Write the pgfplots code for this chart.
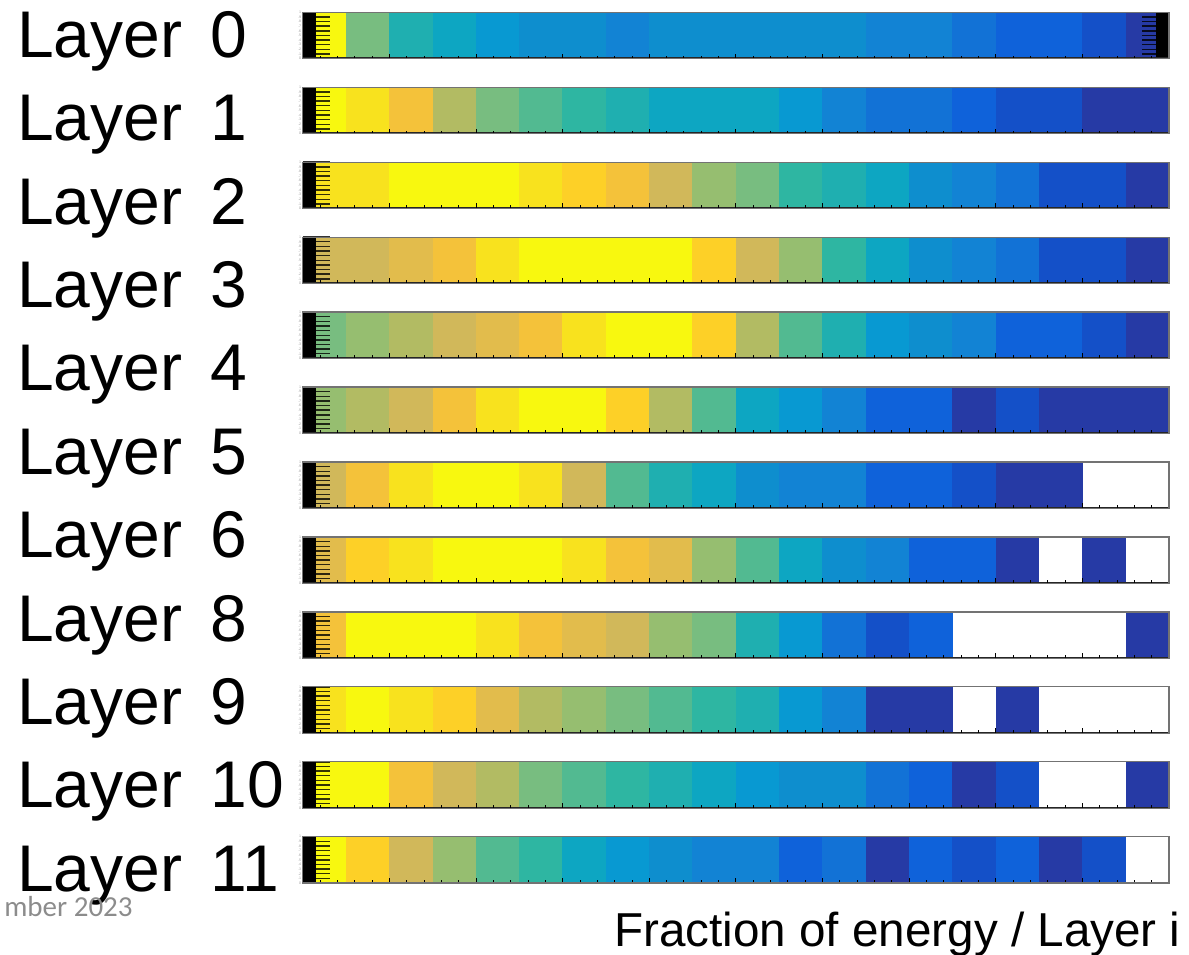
\documentclass[border=0pt]{standalone}
\usepackage{fontspec}
\usepackage{pgfplots}
\pgfplotsset{compat=1.18}
\setmainfont{Liberation Sans}
\newfontfamily\footfont{Carlito}

\pgfdeclareplotmark{cell}{%
  \pgfpathrectanglecorners{\pgfqpoint{-10.9pt}{-11.6pt}}{\pgfqpoint{10.9pt}{11.6pt}}%
  \pgfusepathqfill}

\pgfplotsset{
  colormap={parula20}{rgb255=(38,58,165) rgb255=(20,80,200) rgb255=(15,98,218)
    rgb255=(18,114,214) rgb255=(18,131,212) rgb255=(14,142,206) rgb255=(8,153,210)
    rgb255=(13,166,194) rgb255=(31,175,176) rgb255=(46,182,162) rgb255=(82,186,145)
    rgb255=(120,189,128) rgb255=(150,190,112) rgb255=(178,187,99) rgb255=(209,184,90)
    rgb255=(226,188,76) rgb255=(244,194,58) rgb255=(253,208,39) rgb255=(248,226,30)
    rgb255=(248,248,15)},
  rowaxis/.style={
    width=433.15pt, height=23.15pt, scale only axis, anchor=north west,
    xmin=0, xmax=20, ymin=0, ymax=1, axis on top, clip marker paths=true,
    xtick={0,2,4,6,8,10,12,14,16,18,20}, minor x tick num=4,
    ytick={0,0.1,0.2,0.3,0.4,0.5,0.6,0.7,0.8,0.9,1},
    xticklabels={},
    yticklabels={0,.1,.2,.3,.4,.5,.6,.7,.8,.9,1},
    yticklabel style={font=\fontsize{1.8}{2}\selectfont, text=black!40, inner sep=0.6pt},
    yticklabel pos=left,
    tick align=inside, tick pos=left,
    ytick style={/pgfplots/major tick length=13.65pt, line width=0.7pt, black, opacity=0.8},
    xtick style={/pgfplots/major tick length=2.5pt, /pgfplots/minor tick length=1.5pt, black, line width=0.4pt},
    axis line style={black!55, line width=0.6pt},
    point meta min=0, point meta max=19, colormap name=parula20,
  },
  cells/.style={scatter, only marks, mark=cell, point meta=explicit,
    scatter/use mapped color={draw=mapped color, fill=mapped color}},
}

\newcommand{\LayerRow}[4]{%
\begin{axis}[rowaxis, at={(151.35pt,#1pt)}, #3]
\addplot[cells] coordinates {#2};
\fill[black] (axis cs:0,0) rectangle (axis cs:0.312,1);
#4
\draw[black!85, line width=1.1pt] (rel axis cs:0,0) -- (rel axis cs:1,0);
\end{axis}}

\newcommand{\labfont}{\fontsize{33}{33}\selectfont}

\begin{document}
\begin{tikzpicture}
\useasboundingbox (0,0) rectangle (594.5pt,477pt);
\clip (0,0) rectangle (594.5pt,477pt);

% Layer rows (value = colormap level 0..19, white cells omitted)
\LayerRow{470.85}{(0.5,0.5)[19] (1.5,0.5)[11] (2.5,0.5)[8] (3.5,0.5)[7] (4.5,0.5)[6] (5.5,0.5)[5] (6.5,0.5)[5] (7.5,0.5)[4] (8.5,0.5)[5] (9.5,0.5)[5] (10.5,0.5)[5] (11.5,0.5)[5] (12.5,0.5)[5] (13.5,0.5)[4] (14.5,0.5)[4] (15.5,0.5)[3] (16.5,0.5)[2] (17.5,0.5)[2] (18.5,0.5)[1] (19.5,0.5)[0]}{ytick pos=both}{\fill[black] (axis cs:19.7,0) rectangle (axis cs:20,1);}

\LayerRow{433.375}{(0.5,0.5)[19] (1.5,0.5)[18] (2.5,0.5)[16] (3.5,0.5)[13] (4.5,0.5)[11] (5.5,0.5)[10] (6.5,0.5)[9] (7.5,0.5)[8] (8.5,0.5)[7] (9.5,0.5)[7] (10.5,0.5)[7] (11.5,0.5)[6] (12.5,0.5)[4] (13.5,0.5)[3] (14.5,0.5)[3] (15.5,0.5)[2] (16.5,0.5)[1] (17.5,0.5)[1] (18.5,0.5)[0] (19.5,0.5)[0]}{}{}

\LayerRow{395.9}{(0.5,0.5)[18] (1.5,0.5)[18] (2.5,0.5)[19] (3.5,0.5)[19] (4.5,0.5)[19] (5.5,0.5)[18] (6.5,0.5)[17] (7.5,0.5)[16] (8.5,0.5)[14] (9.5,0.5)[12] (10.5,0.5)[11] (11.5,0.5)[9] (12.5,0.5)[8] (13.5,0.5)[7] (14.5,0.5)[5] (15.5,0.5)[4] (16.5,0.5)[3] (17.5,0.5)[1] (18.5,0.5)[1] (19.5,0.5)[0]}{}{}

\LayerRow{358.425}{(0.5,0.5)[14] (1.5,0.5)[14] (2.5,0.5)[15] (3.5,0.5)[16] (4.5,0.5)[18] (5.5,0.5)[19] (6.5,0.5)[19] (7.5,0.5)[19] (8.5,0.5)[19] (9.5,0.5)[17] (10.5,0.5)[14] (11.5,0.5)[12] (12.5,0.5)[9] (13.5,0.5)[7] (14.5,0.5)[5] (15.5,0.5)[4] (16.5,0.5)[3] (17.5,0.5)[1] (18.5,0.5)[1] (19.5,0.5)[0]}{}{}

\LayerRow{320.95}{(0.5,0.5)[11] (1.5,0.5)[12] (2.5,0.5)[13] (3.5,0.5)[14] (4.5,0.5)[15] (5.5,0.5)[16] (6.5,0.5)[18] (7.5,0.5)[19] (8.5,0.5)[19] (9.5,0.5)[17] (10.5,0.5)[13] (11.5,0.5)[10] (12.5,0.5)[8] (13.5,0.5)[6] (14.5,0.5)[5] (15.5,0.5)[4] (16.5,0.5)[2] (17.5,0.5)[2] (18.5,0.5)[1] (19.5,0.5)[0]}{}{}

\LayerRow{283.475}{(0.5,0.5)[12] (1.5,0.5)[13] (2.5,0.5)[14] (3.5,0.5)[16] (4.5,0.5)[18] (5.5,0.5)[19] (6.5,0.5)[19] (7.5,0.5)[17] (8.5,0.5)[13] (9.5,0.5)[10] (10.5,0.5)[7] (11.5,0.5)[6] (12.5,0.5)[4] (13.5,0.5)[2] (14.5,0.5)[2] (15.5,0.5)[0] (16.5,0.5)[1] (17.5,0.5)[0] (18.5,0.5)[0] (19.5,0.5)[0]}{}{}

\LayerRow{246.0}{(0.5,0.5)[14] (1.5,0.5)[16] (2.5,0.5)[18] (3.5,0.5)[19] (4.5,0.5)[19] (5.5,0.5)[18] (6.5,0.5)[14] (7.5,0.5)[10] (8.5,0.5)[8] (9.5,0.5)[7] (10.5,0.5)[5] (11.5,0.5)[4] (12.5,0.5)[4] (13.5,0.5)[2] (14.5,0.5)[2] (15.5,0.5)[1] (16.5,0.5)[0] (17.5,0.5)[0]}{}{}

\LayerRow{208.525}{(0.5,0.5)[15] (1.5,0.5)[17] (2.5,0.5)[18] (3.5,0.5)[19] (4.5,0.5)[19] (5.5,0.5)[19] (6.5,0.5)[18] (7.5,0.5)[16] (8.5,0.5)[15] (9.5,0.5)[12] (10.5,0.5)[10] (11.5,0.5)[7] (12.5,0.5)[5] (13.5,0.5)[4] (14.5,0.5)[2] (15.5,0.5)[2] (16.5,0.5)[0] (18.5,0.5)[0]}{}{}

\LayerRow{171.05}{(0.5,0.5)[16] (1.5,0.5)[19] (2.5,0.5)[19] (3.5,0.5)[19] (4.5,0.5)[18] (5.5,0.5)[16] (6.5,0.5)[15] (7.5,0.5)[14] (8.5,0.5)[12] (9.5,0.5)[11] (10.5,0.5)[8] (11.5,0.5)[6] (12.5,0.5)[3] (13.5,0.5)[1] (14.5,0.5)[2] (19.5,0.5)[0]}{}{}

\LayerRow{133.575}{(0.5,0.5)[18] (1.5,0.5)[19] (2.5,0.5)[18] (3.5,0.5)[17] (4.5,0.5)[15] (5.5,0.5)[13] (6.5,0.5)[12] (7.5,0.5)[11] (8.5,0.5)[10] (9.5,0.5)[9] (10.5,0.5)[8] (11.5,0.5)[6] (12.5,0.5)[4] (13.5,0.5)[0] (14.5,0.5)[0] (16.5,0.5)[0]}{}{}

\LayerRow{96.1}{(0.5,0.5)[19] (1.5,0.5)[19] (2.5,0.5)[16] (3.5,0.5)[14] (4.5,0.5)[13] (5.5,0.5)[11] (6.5,0.5)[10] (7.5,0.5)[9] (8.5,0.5)[8] (9.5,0.5)[7] (10.5,0.5)[6] (11.5,0.5)[5] (12.5,0.5)[5] (13.5,0.5)[3] (14.5,0.5)[2] (15.5,0.5)[0] (16.5,0.5)[1] (19.5,0.5)[0]}{}{}

\LayerRow{58.625}{(0.5,0.5)[19] (1.5,0.5)[17] (2.5,0.5)[14] (3.5,0.5)[12] (4.5,0.5)[10] (5.5,0.5)[9] (6.5,0.5)[7] (7.5,0.5)[6] (8.5,0.5)[5] (9.5,0.5)[4] (10.5,0.5)[4] (11.5,0.5)[2] (12.5,0.5)[3] (13.5,0.5)[0] (14.5,0.5)[2] (15.5,0.5)[1] (16.5,0.5)[2] (17.5,0.5)[0] (18.5,0.5)[1]}{}{}

% Left labels
\foreach \n/\yy in {0/448.35, 1/406.65, 2/364.95, 3/323.25, 4/281.55, 5/239.85, 6/198.15, 8/156.45, 9/114.75, 10/73.05, 11/31.35} {
  \node[anchor=base west, inner sep=0pt, font=\labfont] at (8.45pt,\yy pt) {Layer};
  \node[anchor=base west, inner sep=0pt, font=\labfont] at (105pt,\yy pt) {\n};
}

% footer fragment
\node[anchor=base east, inner sep=0pt, text=black!45, font=\footfont\fontsize{14.5}{14.5}\selectfont] at (66.5pt,18.65pt) {mber 2023};

% x label
\node[anchor=base west, inner sep=0pt, font=\fontsize{23.8}{23.8}\selectfont] at (307pt,3.65pt) {Fraction of energy / Layer i};
\end{tikzpicture}
\end{document}
